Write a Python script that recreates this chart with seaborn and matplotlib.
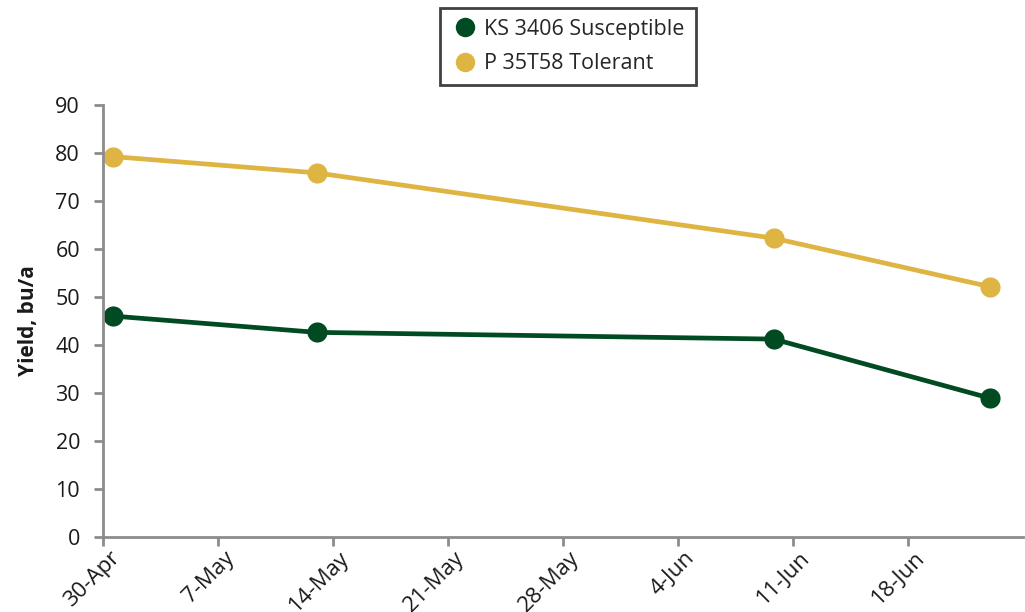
import matplotlib
matplotlib.use("Agg")
import matplotlib.pyplot as plt
import matplotlib.dates as mdates
import matplotlib.transforms as mtransforms
from matplotlib.lines import Line2D
import seaborn as sns
import pandas as pd

# ---- data ----
dates = ["2013-04-30 14:00", "2013-05-13 00:00", "2013-06-09 20:00", "2013-06-23 00:00"]
susceptible = [46.0, 42.6, 41.2, 28.9]
tolerant = [79.2, 75.8, 62.2, 52.1]
series_names = ["KS 3406 Susceptible", "P 35T58 Tolerant"]
tick_dates = ["2013-04-30", "2013-05-07", "2013-05-14", "2013-05-21",
              "2013-05-28", "2013-06-04", "2013-06-11", "2013-06-18"]
tick_labels = ["30-Apr", "7-May", "14-May", "21-May", "28-May", "4-Jun", "11-Jun", "18-Jun"]
y_ticks = [0, 10, 20, 30, 40, 50, 60, 70, 80, 90]

colors = {"KS 3406 Susceptible": "#004b22", "P 35T58 Tolerant": "#deb442"}

df = pd.DataFrame({
    "date": pd.to_datetime(dates * 2),
    "yield": susceptible + tolerant,
    "series": [series_names[0]] * len(dates) + [series_names[1]] * len(dates),
})

sns.set_theme(style="white")
plt.rcParams["font.family"] = ["Open Sans", "DejaVu Sans"]

fig = plt.figure(figsize=(10.25, 6.12), dpi=100)
ax = fig.add_axes([0.1005, 0.1225, 0.8975, 0.7065])

sns.lineplot(data=df, x="date", y="yield", hue="series", palette=colors,
             marker="o", markersize=14.5, linewidth=3.4, markeredgewidth=0,
             ax=ax, legend=False)

ax.set_xlim(mdates.date2num(pd.Timestamp("2013-04-30")),
            mdates.date2num(pd.Timestamp("2013-06-25")))
ax.set_ylim(0, 90)
ax.set_yticks(y_ticks)
ax.set_yticklabels([str(v) for v in y_ticks], fontsize=15.5, color="#1a1a1a")
ax.set_xticks(mdates.date2num(pd.to_datetime(tick_dates)))
ax.set_xticklabels(tick_labels, fontsize=16, rotation=45, ha="right",
                   rotation_mode="anchor", color="#1a1a1a")

for side in ["top", "right"]:
    ax.spines[side].set_visible(False)
for side in ["left", "bottom"]:
    ax.spines[side].set_color("#8c8c8c")
    ax.spines[side].set_linewidth(2)
ax.tick_params(axis="both", which="major", direction="out", length=6.5,
               width=2, color="#8c8c8c", left=True, bottom=True)
ax.tick_params(axis="y", pad=10)
ax.tick_params(axis="x", pad=1)

# shift x tick labels slightly right, like the reference
offset = mtransforms.ScaledTranslation(6 / 100, 0, fig.dpi_scale_trans)
for lbl in ax.get_xticklabels():
    lbl.set_transform(lbl.get_transform() + offset)

ax.set_xlabel("")
ax.set_ylabel("Yield, bu/a", fontsize=15, fontweight="bold", color="#1a1a1a", labelpad=12)

handles = [Line2D([0], [0], marker="o", linestyle="none", markersize=14,
                  markerfacecolor=colors[n], markeredgewidth=0) for n in series_names]
leg = fig.legend(handles, series_names, loc="upper left",
                 bbox_to_anchor=(0.4295, 0.987), bbox_transform=fig.transFigure,
                 fontsize=15.5, frameon=True, fancybox=False, handletextpad=0.25,
                 borderpad=0.5, labelspacing=0.62, handlelength=1.3,
                 borderaxespad=0)
leg.get_frame().set_edgecolor("#111111")
leg.get_frame().set_linewidth(2)

fig.savefig("out.png", dpi=100)
